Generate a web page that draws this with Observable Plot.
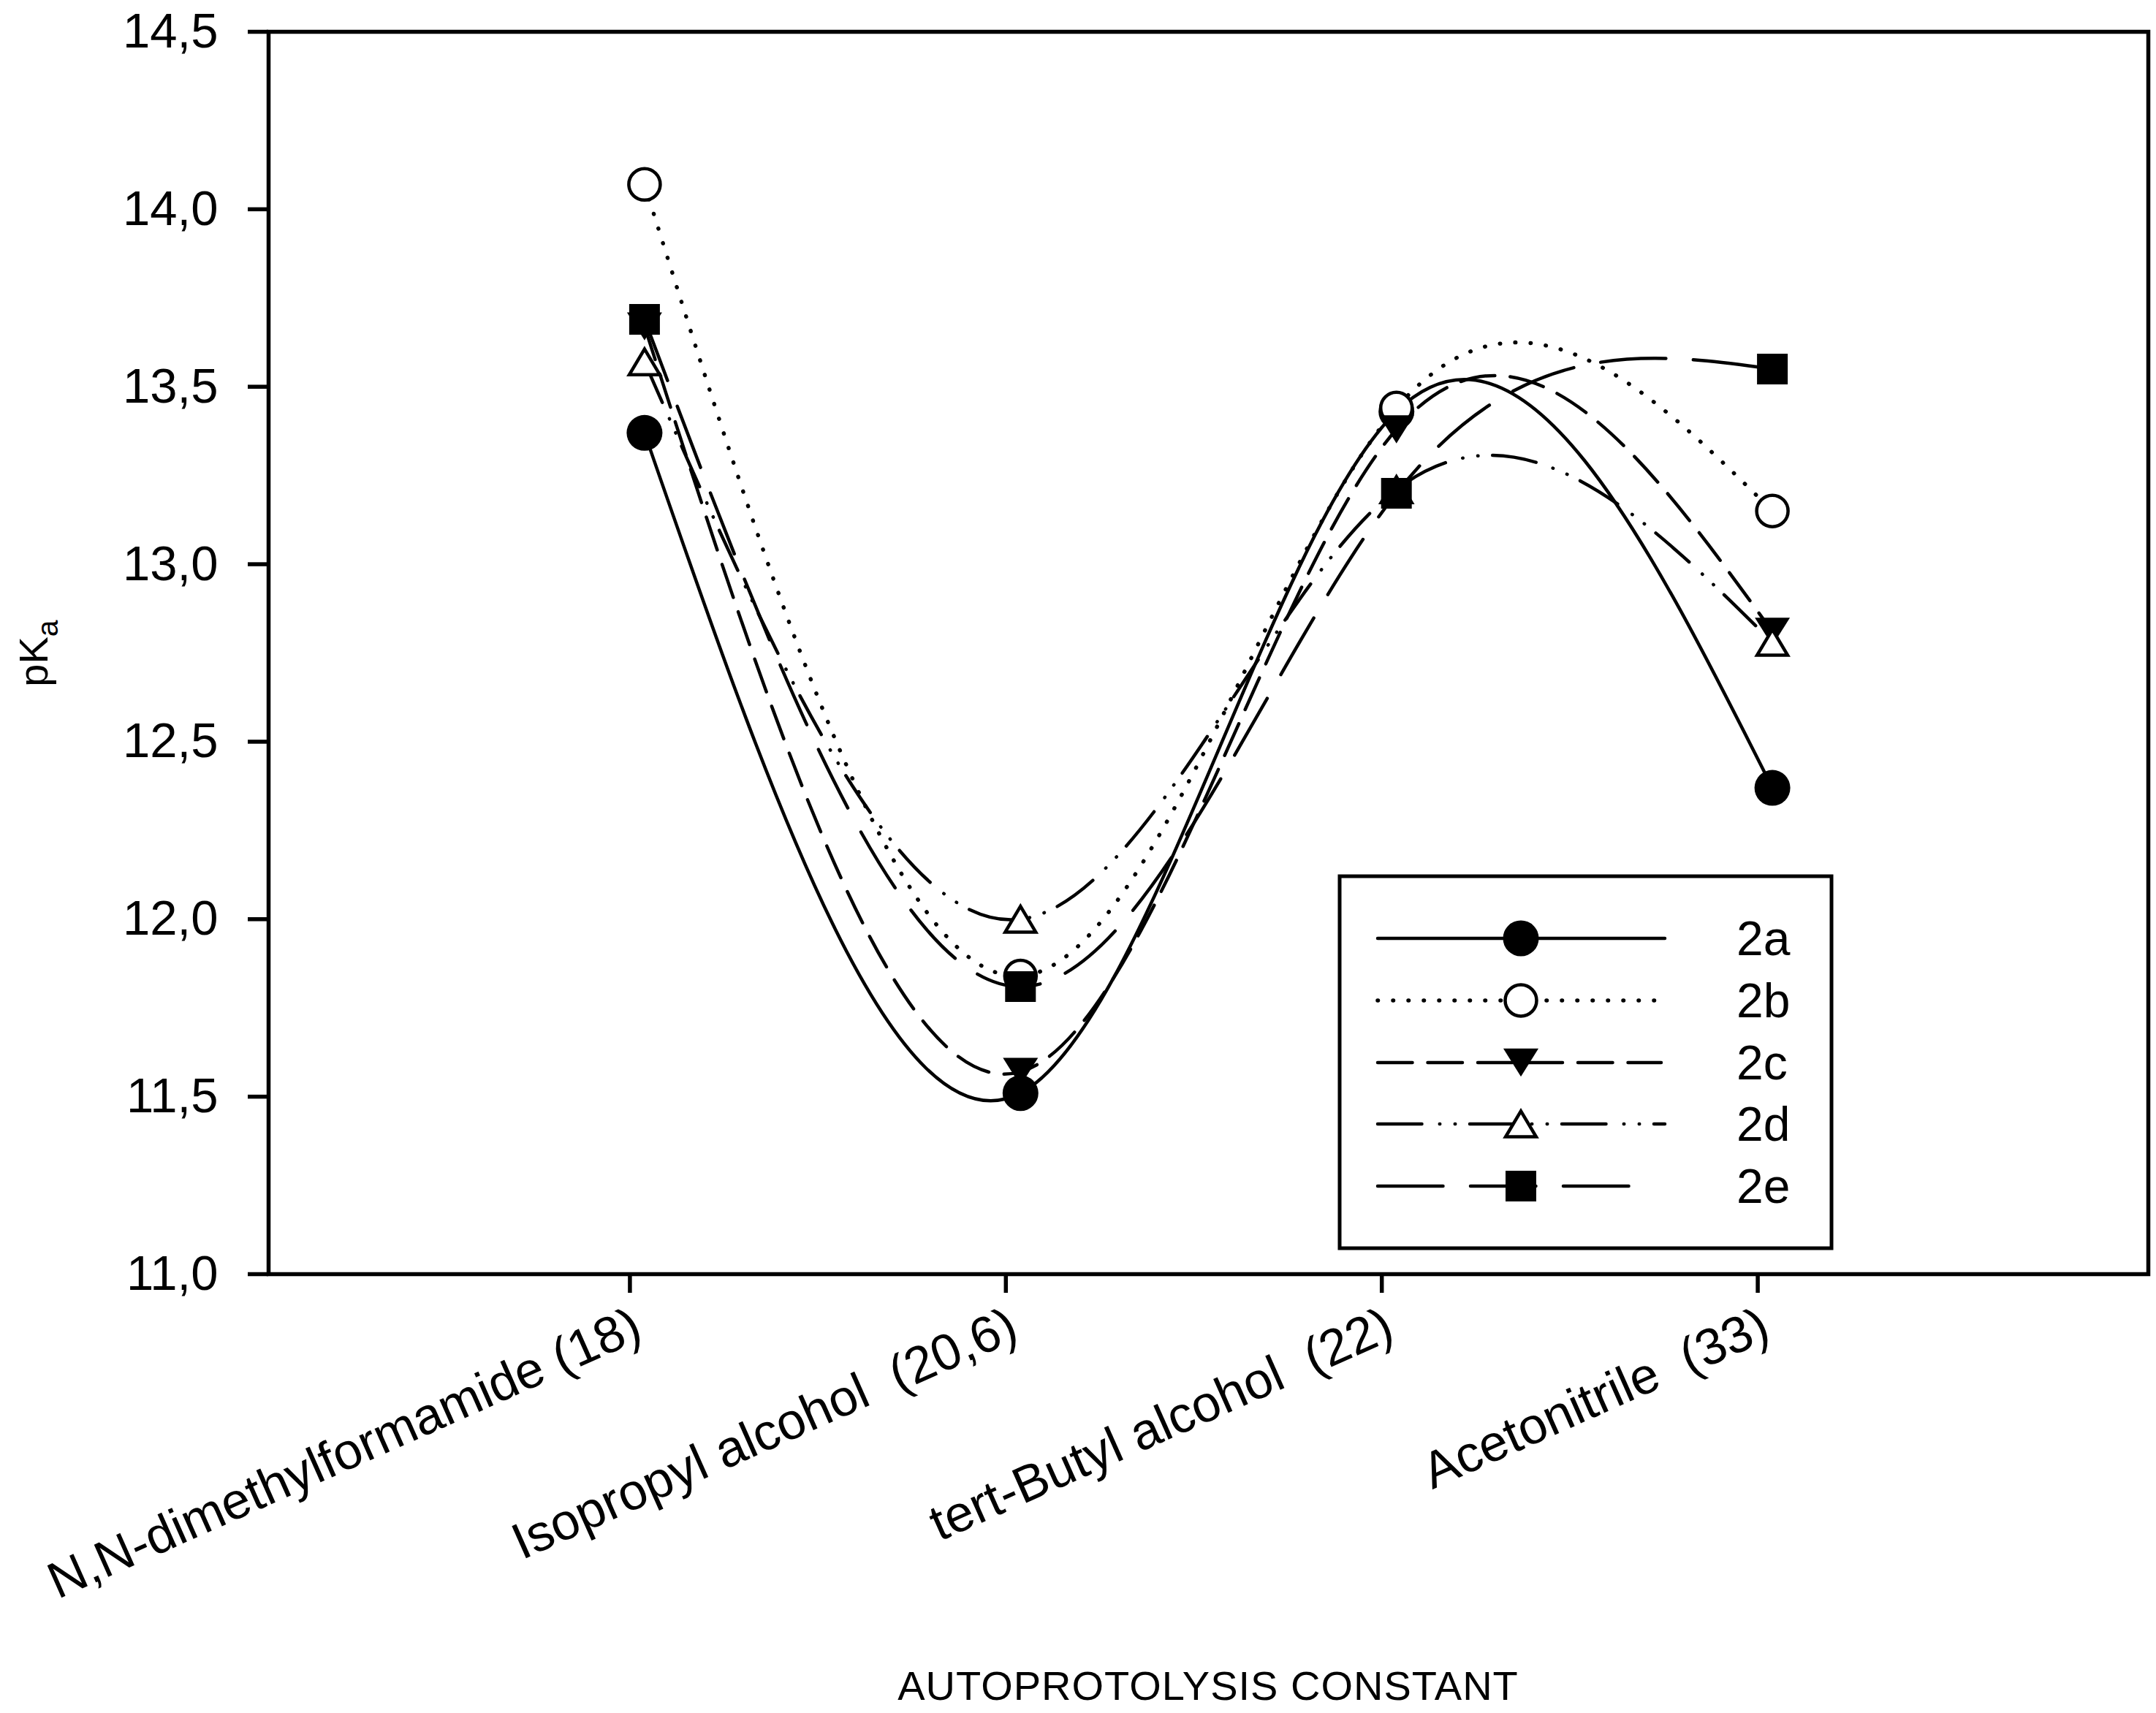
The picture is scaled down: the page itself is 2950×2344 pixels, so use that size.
<!DOCTYPE html>
<html><head><meta charset="utf-8">
<script src="https://cdn.jsdelivr.net/npm/d3@7"></script>
<script src="https://cdn.jsdelivr.net/npm/@observablehq/plot@0.6"></script>
<style>
body{margin:0;background:#fff;}
svg text{white-space:pre;}
</style>
</head><body><div id="chart"></div>
<script>
// ---- data ----
const solvents = ["N,N-dimethylformamide (18)", "Isopropyl alcohol  (20,6)", "tert-Butyl alcohol  (22)", "Acetonitrile  (33)"];
const seriesNames = ["2a", "2b", "2c", "2d", "2e"];
const pKa_2a = [13.37, 11.51, 13.43, 12.37];
const pKa_2b = [14.07, 11.84, 13.44, 13.15];
const pKa_2c = [13.67, 11.57, 13.38, 12.81];
const pKa_2d = [13.57, 12.00, 13.21, 12.78];
const pKa_2e = [13.69, 11.81, 13.20, 13.55];
const yTicks = [11.0, 11.5, 12.0, 12.5, 13.0, 13.5, 14.0, 14.5];
const xTitle = "AUTOPROTOLYSIS CONSTANT";
const yTitle = "pK";
const yTitleSub = "a";

const values = [pKa_2a, pKa_2b, pKa_2c, pKa_2d, pKa_2e];

// ---- symbols ----
const triUp = {draw(ctx, size) { const k = Math.sqrt(size / Math.PI);
  ctx.moveTo(0, -0.8 * k); ctx.lineTo(0.95 * k, 0.8 * k); ctx.lineTo(-0.95 * k, 0.8 * k); ctx.closePath(); }};
const triDown = {draw(ctx, size) { const k = Math.sqrt(size / Math.PI);
  ctx.moveTo(-k, -0.8 * k); ctx.lineTo(k, -0.8 * k); ctx.lineTo(0, 0.8 * k); ctx.closePath(); }};

const LW = 4.5;
const styles = [
  {dash: null, symbol: "circle", r: 24.5, fill: "black", stroke: "none"},
  {dash: "0.5,20.5", symbol: "circle", r: 21.5, fill: "white", stroke: "black", lw: 5.5},
  {dash: "47.5,21", symbol: triDown, r: 24, fill: "black", stroke: "none"},
  {dash: "60.5,24.25,0.5,20.5,0.5,19.75", symbol: triUp, r: 22, fill: "white", stroke: "black"},
  {dash: "89.5,37.5", symbol: "square", r: 23.7, fill: "black", stroke: "none"}
];

const W = 2950, H = 2344;
const mL = 367, mR = 11, mT = 43, mB = 601;

const marks = [];
values.forEach((vals, k) => {
  const rows = vals.map((v, i) => ({x: i, y: v}));
  const st = styles[k];
  marks.push(Plot.line(rows, {x: "x", y: "y", curve: "natural", stroke: "black",
    strokeWidth: st.lw || LW, strokeDasharray: st.dash || undefined, strokeLinecap: "round", strokeLinejoin: "round"}));
  marks.push(Plot.dot(rows, {x: "x", y: "y", r: st.r, symbol: st.symbol, fill: st.fill,
    stroke: st.stroke, strokeWidth: 4.5}));
});

const fmtY = d => d.toFixed(1).replace(".", ",");

const chart = Plot.plot({
  width: W, height: H,
  marginLeft: mL, marginRight: mR, marginTop: mT, marginBottom: mB,
  style: {fontFamily: "'Liberation Sans', Arial, sans-serif", background: "white", color: "black"},
  x: {domain: [-1, 4]},
  y: {domain: [11, 14.5]},
  marks: [
    Plot.frame({stroke: "black", strokeWidth: 5.5}),
    Plot.axisY({ticks: yTicks, tickFormat: fmtY, tickSize: 28, tickPadding: 41, fontSize: 67,
      strokeWidth: 5.5, label: null}),
    Plot.axisX({ticks: [0, 1, 2, 3], tickFormat: i => solvents[i], tickSize: 26, tickPadding: 16,
      tickRotate: -24, textAnchor: "end", lineAnchor: "top", dx: -20, fontSize: 70, strokeWidth: 5.5, label: null}),
    ...marks
  ]
});

document.getElementById("chart").appendChild(chart);

// ---- titles and legend ----
const svg = d3.select(chart);
svg.append("text")
  .attr("x", 1653).attr("y", 2326)
  .attr("text-anchor", "middle")
  .attr("font-size", 56).attr("letter-spacing", 1)
  .attr("fill", "black")
  .text(xTitle);

const yt = svg.append("text")
  .attr("transform", "translate(65,894) rotate(-90)")
  .attr("text-anchor", "middle")
  .attr("font-size", 56).attr("fill", "black");
yt.append("tspan").text(yTitle);
yt.append("tspan").attr("font-size", 41).attr("dy", 14).text(yTitleSub);

const lg = svg.append("g");
lg.append("rect").attr("x", 1833).attr("y", 1199).attr("width", 673).attr("height", 509)
  .attr("fill", "white").attr("stroke", "black").attr("stroke-width", 5);
const rowY = [1284, 1369, 1454, 1538, 1623];
const lineEnd = [2278, 2271, 2273, 2278, 2242];
seriesNames.forEach((name, k) => {
  const st = styles[k];
  const y = rowY[k];
  lg.append("line").attr("x1", 1885).attr("x2", lineEnd[k]).attr("y1", y).attr("y2", y)
    .attr("stroke", "black").attr("stroke-width", st.lw || LW)
    .attr("stroke-dasharray", st.dash).attr("stroke-linecap", "round");
  let sym;
  if (st.symbol === "circle") sym = d3.symbolCircle;
  else if (st.symbol === "square") sym = d3.symbolSquare;
  else sym = st.symbol;
  lg.append("path").attr("transform", `translate(2081,${y})`)
    .attr("d", d3.symbol(sym, st.r * st.r * Math.PI)())
    .attr("fill", st.fill).attr("stroke", st.stroke).attr("stroke-width", 4.5);
  lg.append("text").attr("x", 2376).attr("y", y).attr("dy", "0.35em")
    .attr("text-anchor", "start")
    .attr("font-size", 66).attr("fill", "black").text(name);
});
</script>
</body></html>
